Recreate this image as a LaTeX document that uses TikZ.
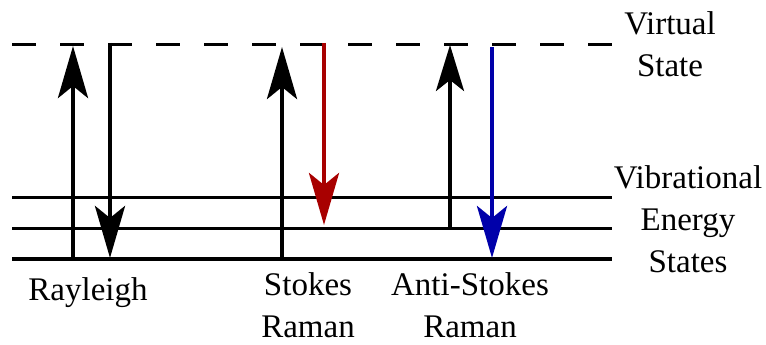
\documentclass[tikz,border=0pt]{standalone}
\usepackage{fontspec}
\setmainfont{Liberation Serif}
\usetikzlibrary{arrows.meta}
\definecolor{stokesred}{RGB}{168,0,0}
\definecolor{antiblue}{RGB}{0,0,170}
\begin{document}
\begin{tikzpicture}[x=1pt,y=-1pt,
  level/.style={line width=3pt},
  ground/.style={line width=4.4pt},
  virtual/.style={line width=3pt, dash pattern=on 24pt off 24pt},
  trans/.style={line width=4.6pt, -{Stealth[length=52pt,width=30pt,inset=12pt]}},
  lbl/.style={font=\fontsize{33}{42}\selectfont, align=center, anchor=base, inner sep=0pt}]
\useasboundingbox (0,0) rectangle (766,345);
% level end points
\coordinate (v0) at (12,45);   \coordinate (v1) at (612,45);
\coordinate (e2a) at (12,197); \coordinate (e2b) at (612,197);
\coordinate (e1a) at (12,228); \coordinate (e1b) at (612,228);
\coordinate (g0) at (12,259);  \coordinate (g1) at (612,259);
\draw[virtual] (v0) -- (v1);
\draw[level] (e2a) -- (e2b);
\draw[level] (e1a) -- (e1b);
\draw[ground] (g0) -- (g1);
% transitions
\coordinate (r1s) at (73,259);  \coordinate (r1e) at (73,46);
\coordinate (r2s) at (110,43);  \coordinate (r2e) at (110,258);
\coordinate (s1s) at (282,259); \coordinate (s1e) at (282,47);
\coordinate (s2s) at (324,43);  \coordinate (s2e) at (324,225);
\coordinate (a1s) at (450,227); \coordinate (a1e) at (450,45);
\coordinate (a2s) at (492,47);  \coordinate (a2e) at (492,258);
\draw[trans] (r1s) -- (r1e);
\draw[trans] (r2s) -- (r2e);
\draw[trans] (s1s) -- (s1e);
\draw[trans, stokesred] (s2s) -- (s2e);
\draw[trans, line width=4pt, -{Stealth[length=46pt,width=28pt,inset=11pt]}] (a1s) -- (a1e);
\draw[trans, antiblue] (a2s) -- (a2e);
% labels (base anchor = baseline of last line)
\node[lbl] (virt) at (670,77) {Virtual\\State};
\node[lbl] (vib) at (688,272) {Vibrational\\Energy\\States};
\node[lbl] (ray) at (88,300) {Rayleigh};
\node[lbl] (sto) at (308,337) {Stokes\\Raman};
\node[lbl] (ast) at (470,337) {Anti-Stokes\\Raman};
\end{tikzpicture}
\end{document}
